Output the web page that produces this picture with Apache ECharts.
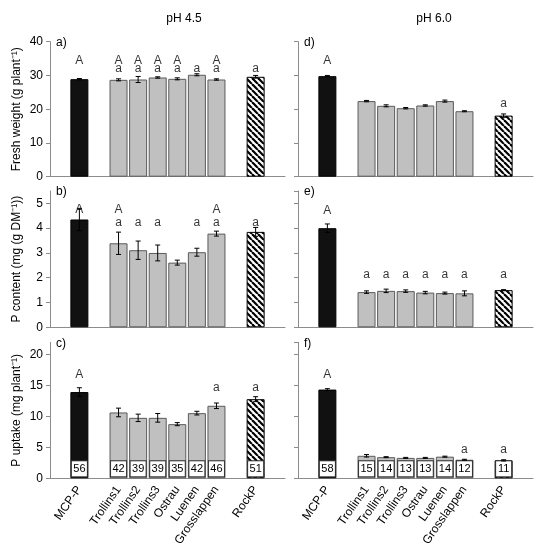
<!DOCTYPE html>
<html>
<head>
<meta charset="utf-8">
<script src="https://cdn.jsdelivr.net/npm/echarts@6/dist/echarts.min.js"></script>
<style>
html, body { margin: 0; padding: 0; background: #fff; }
#chart { width: 545px; height: 550px; }
</style>
</head>
<body>
<div id="chart"></div>
<script>
// category slots (blank slots are the gaps between groups)
var categories = ['\u00a0', 'MCP-P', ' ', 'Trollins1', 'Trollins2', 'Trollins3', 'Ostrau', 'Luenen', 'Grosslappen', '  ', 'RockP', '   '];
var treatments = ['MCP-P', 'Trollins1', 'Trollins2', 'Trollins3', 'Ostrau', 'Luenen', 'Grosslappen', 'RockP'];

// a) / d) fresh weight
var freshWeight45 = [28.9, 28.7, 28.8, 29.4, 29.0, 30.2, 28.8, 29.6];
var freshWeight45Err = [0.2, 0.3, 0.9, 0.2, 0.3, 0.3, 0.2, 0.4];
var freshWeight60 = [29.8, 22.4, 21.0, 20.3, 21.1, 22.4, 19.4, 18.1];
var freshWeight60Err = [0.2, 0.2, 0.3, 0.2, 0.2, 0.3, 0.15, 0.5];
// b) / e) P content
var pContent45 = [4.35, 3.39, 3.11, 3.0, 2.61, 3.03, 3.78, 3.85];
var pContent45Err = [0.45, 0.45, 0.37, 0.32, 0.1, 0.16, 0.1, 0.18];
var pContent60 = [4.0, 1.42, 1.47, 1.46, 1.40, 1.38, 1.37, 1.50];
var pContent60Err = [0.17, 0.05, 0.07, 0.05, 0.05, 0.04, 0.1, 0.02];
// c) / f) P uptake
var pUptake45 = [13.95, 10.65, 9.78, 9.78, 8.76, 10.54, 11.73, 12.8];
var pUptake45Err = [0.7, 0.7, 0.6, 0.7, 0.25, 0.3, 0.45, 0.4];
var pUptake60 = [14.35, 3.64, 3.42, 3.3, 3.3, 3.5, 3.0, 2.9];
var pUptake60Err = [0.15, 0.2, 0.08, 0.08, 0.08, 0.08, 0.08, 0.1];
// numbers in the boxes of c) / f)
var boxNumbers45 = [56, 42, 39, 39, 35, 42, 46, 51];
var boxNumbers60 = [58, 15, 14, 13, 13, 14, 12, 11];

// significance letters (upper row / lower row)
var lettersA1 = ['A', 'A', 'A', 'A', 'A', '', 'A', ''];
var lettersA2 = ['', 'a', 'a', 'a', 'a', 'a', 'a', 'a'];
var lettersB1 = ['A', 'A', '', '', '', '', 'A', ''];
var lettersB2 = ['', 'a', 'a', 'a', '', 'a', 'a', 'a'];
var lettersC1 = ['A', '', '', '', '', '', '', ''];
var lettersC2 = ['', '', '', '', '', '', 'a', 'a'];
var lettersD1 = ['A', '', '', '', '', '', '', ''];
var lettersD2 = ['', '', '', '', '', '', '', 'a'];
var lettersE1 = ['A', '', '', '', '', '', '', ''];
var lettersE2 = ['', 'a', 'a', 'a', 'a', 'a', 'a', 'a'];
var lettersF1 = ['A', '', '', '', '', '', '', ''];
var lettersF2 = ['', '', '', '', '', '', 'a', 'a'];

var slotOf = [1, 3, 4, 5, 6, 7, 8, 10];
var FONT = 'Liberation Sans, Arial, sans-serif';

// hatch pattern for RockP
function makeHatch() {
	var c = document.createElement('canvas');
	var s = 6;
	c.width = s; c.height = s;
	var ctx = c.getContext('2d');
	ctx.fillStyle = '#fff';
	ctx.fillRect(0, 0, s, s);
	ctx.strokeStyle = '#000';
	ctx.lineWidth = 2.2;
	for (var k = -1; k <= 1; k++) {
		ctx.beginPath();
		ctx.moveTo(k * s, 0);
		ctx.lineTo(k * s + s, s);
		ctx.stroke();
	}
	return c;
}
var hatch = makeHatch();

function barStyle(i) {
	if (i == 0) return { color: '#111', borderColor: '#000', borderWidth: 1 };
	if (i == 7) return { color: { image: hatch, repeat: 'repeat' }, borderColor: '#000', borderWidth: 1 };
	return { color: '#c0c0c0', borderColor: '#5a5a5a', borderWidth: 1 };
}

function renderErr(params, api) {
	var x = api.value(0);
	var lo = api.coord([x, api.value(1)]);
	var hi = api.coord([x, api.value(2)]);
	var w = 2.5;
	var st = { stroke: '#000', lineWidth: 1 };
	return {
		type: 'group',
		children: [
			{ type: 'line', shape: { x1: lo[0], y1: lo[1], x2: hi[0], y2: hi[1] }, style: st },
			{ type: 'line', shape: { x1: lo[0] - w, y1: lo[1], x2: lo[0] + w, y2: lo[1] }, style: st },
			{ type: 'line', shape: { x1: hi[0] - w, y1: hi[1], x2: hi[0] + w, y2: hi[1] }, style: st }
		]
	};
}

// panel settings: values, errors, letters, rows of letters (axis units), boxes
var panels = [
	{ v: freshWeight45, e: freshWeight45Err, l1: lettersA1, l2: lettersA2, r1: 34.4, r2: 32.0, tag: 'a)' },
	{ v: freshWeight60, e: freshWeight60Err, l1: lettersD1, l2: lettersD2, r1: 34.3, r2: 21.6, tag: 'd)' },
	{ v: pContent45, e: pContent45Err, l1: lettersB1, l2: lettersB2, r1: 4.75, r2: 4.24, tag: 'b)' },
	{ v: pContent60, e: pContent60Err, l1: lettersE1, l2: lettersE2, r1: 4.72, r2: 2.12, tag: 'e)' },
	{ v: pUptake45, e: pUptake45Err, l1: lettersC1, l2: lettersC2, r1: 16.75, r2: 14.7, tag: 'c)', box: boxNumbers45 },
	{ v: pUptake60, e: pUptake60Err, l1: lettersF1, l2: lettersF2, r1: 16.7, r2: 4.6, tag: 'f)', box: boxNumbers60 }
];
var rowTop = [41.7, 191, 342.3];
var rowHeight = [135, 136.3, 136];
var colLeft = [50, 298];
var yMax = [40, 5.5, 22];
var yStep = [10, 1, 5];
var yNames = ['Fresh weight (g plant\u207b\u00b9)', 'P content (mg (g DM\u207b\u00b9))', 'P uptake (mg plant\u207b\u00b9)'];

var grids = [], xAxes = [], yAxes = [], series = [], titles = [];
titles.push({ text: 'pH 4.5', left: 179, top: 8, textAlign: 'center', textStyle: { fontFamily: FONT, fontSize: 12, fontWeight: 'normal', color: '#000' } });
titles.push({ text: 'pH 6.0', left: 429, top: 8, textAlign: 'center', textStyle: { fontFamily: FONT, fontSize: 12, fontWeight: 'normal', color: '#000' } });

for (var p = 0; p < panels.length; p++) {
	var row = Math.floor(p / 2), col = p % 2;
	var P = panels[p];
	grids.push({ left: colLeft[col], width: 235, top: rowTop[row], height: rowHeight[row] });
	titles.push({ text: P.tag, left: colLeft[col] + 6, top: rowTop[row] - 5, padding: 0, textStyle: { fontFamily: FONT, fontSize: 12, fontWeight: 'normal', color: '#000' } });
	xAxes.push({
		type: 'category', gridIndex: p, data: categories,
		axisLine: { lineStyle: { color: '#8c8c8c', width: 1 } },
		axisTick: { show: false },
		axisLabel: { show: row == 2, rotate: 55, interval: 0, margin: 9, fontFamily: FONT, fontSize: 12, color: '#000' }
	});
	yAxes.push({
		type: 'value', gridIndex: p, min: 0, max: yMax[row], interval: yStep[row],
		name: col == 0 ? yNames[row] : '', nameLocation: 'middle', nameGap: 27,
		nameTextStyle: { fontFamily: FONT, fontSize: 12, color: '#000' },
		axisLine: { show: true, lineStyle: { color: '#8c8c8c', width: 1 } },
		axisTick: { show: true, length: 4, lineStyle: { color: '#8c8c8c' } },
		axisLabel: { show: col == 0, showMaxLabel: row == 0, margin: 7, fontFamily: FONT, fontSize: 12, color: '#000' },
		splitLine: { show: false }
	});
	// bars
	var bars = categories.map(function() { return '-'; });
	var errs = [], lab1 = [], lab2 = [];
	for (var i = 0; i < treatments.length; i++) {
		var item = { value: P.v[i], itemStyle: barStyle(i) };
		if (P.box) {
			item.label = {
				show: true, position: 'insideBottom', distance: 2,
				formatter: String(P.box[i]),
				fontFamily: FONT, fontSize: 11, color: '#000',
				backgroundColor: '#fff', borderColor: '#333', borderWidth: 1,
				width: 13, align: 'center', padding: [2, 1, 2, 1]
			};
		}
		bars[slotOf[i]] = item;
		errs.push([slotOf[i], P.v[i] - P.e[i], P.v[i] + P.e[i]]);
		if (P.l1[i]) lab1.push({ value: [slotOf[i], P.r1], name: P.l1[i] });
		if (P.l2[i]) lab2.push({ value: [slotOf[i], P.r2], name: P.l2[i] });
	}
	series.push({ type: 'bar', xAxisIndex: p, yAxisIndex: p, data: bars, barWidth: 18, animation: false });
	series.push({ type: 'custom', xAxisIndex: p, yAxisIndex: p, data: errs, renderItem: renderErr, z: 3, animation: false });
	var lettersLabel = { show: true, position: 'inside', formatter: '{b}', fontFamily: FONT, fontSize: 12, color: '#000' };
	series.push({ type: 'scatter', xAxisIndex: p, yAxisIndex: p, data: lab1.concat(lab2), symbolSize: 1,
		itemStyle: { color: 'rgba(0,0,0,0)' }, label: lettersLabel, z: 4, animation: false });
}

var myChart = echarts.init(document.getElementById('chart'));
myChart.setOption({
	animation: false,
	title: titles,
	grid: grids,
	xAxis: xAxes,
	yAxis: yAxes,
	series: series
});
</script>
</body>
</html>
